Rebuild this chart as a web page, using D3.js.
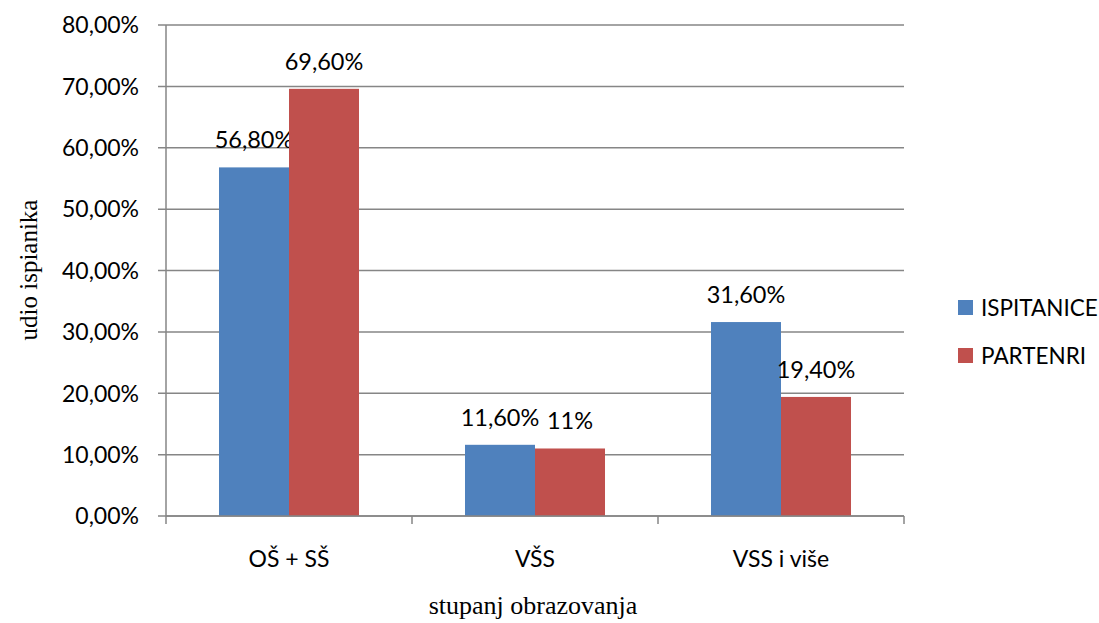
<!DOCTYPE html>
<html>
<head>
<meta charset="UTF-8">
<title>stupanj obrazovanja</title>
<style>
html, body {
    margin: 0;
    padding: 0;
    background-color: #fff;
}
.grid line, .axis path, .axis line {
    stroke: #868686;
    stroke-width: 1.5;
    fill: none;
}
.tick-label, .value-label, .legend-label, .cat-label {
    font-family: Lato, "Open Sans", sans-serif;
    fill: #000;
}
.title {
    font-family: "Liberation Serif", "DejaVu Serif", serif;
    font-size: 26px;
    fill: #000;
}
</style>
</head>
<body>
<div class="chart"></div>
<script src="https://cdn.jsdelivr.net/npm/d3@7/dist/d3.min.js"></script>
<script>
let categories = ['OŠ + SŠ', 'VŠS', 'VSS i više'];
let series = ['ISPITANICE', 'PARTENRI'];
let ispitanice = [56.8, 11.6, 31.6];
let partenri = [69.6, 11, 19.4];
let valueLabels = [['56,80%', '11,60%', '31,60%'], ['69,60%', '11%', '19,40%']];
let yTicks = [0, 10, 20, 30, 40, 50, 60, 70, 80];
let colors = ['#4F81BD', '#C0504D'];

let width = 1099, height = 623;
let plotLeft = 166, plotRight = 904, plotTop = 25, plotBottom = 516;

let svg = d3.select('.chart').append('svg')
    .attr('width', width)
    .attr('height', height);

let y = d3.scaleLinear().domain([0, 80]).range([plotBottom, plotTop]);
let x0 = d3.scaleBand().domain(categories).range([plotLeft, plotRight]).padding(0);
let x1 = d3.scaleBand().domain(series).range([0, x0.bandwidth()])
    .paddingInner(0).paddingOuter(0.757);

// gridlines
svg.append('g').attr('class', 'grid')
    .selectAll('line')
    .data(yTicks)
    .enter().append('line')
    .attr('x1', plotLeft - 8)
    .attr('x2', plotRight)
    .attr('y1', d => y(d))
    .attr('y2', d => y(d));

// y axis line
svg.append('line')
    .attr('x1', plotLeft).attr('x2', plotLeft)
    .attr('y1', plotTop).attr('y2', plotBottom)
    .attr('stroke', '#868686').attr('stroke-width', 1.5);

svg.append('g').selectAll('text')
    .data(yTicks)
    .enter().append('text')
    .attr('class', 'tick-label')
    .attr('x', plotLeft - 27)
    .attr('y', d => y(d))
    .attr('dy', '0.36em')
    .attr('text-anchor', 'end')
    .style('font-size', '23px')
    .text(d => d3.format('.2f')(d).replace('.', ',') + '%');

// bars
let data = [ispitanice, partenri];
series.forEach((s, si) => {
    let g = svg.append('g');
    g.selectAll('rect')
        .data(data[si])
        .enter().append('rect')
        .attr('x', (d, i) => x0(categories[i]) + x1(s))
        .attr('y', d => y(d))
        .attr('width', x1.bandwidth())
        .attr('height', d => plotBottom - y(d))
        .attr('fill', colors[si]);
    g.selectAll('text')
        .data(data[si])
        .enter().append('text')
        .attr('class', 'value-label')
        .attr('x', (d, i) => x0(categories[i]) + x1(s) + x1.bandwidth() / 2)
        .attr('y', d => y(d) - 19)
        .attr('text-anchor', 'middle')
        .style('font-size', '23.5px')
        .text((d, i) => valueLabels[si][i]);
});

// x axis
let xAxis = svg.append('g').attr('class', 'axis');
xAxis.append('line')
    .attr('x1', plotLeft).attr('x2', plotRight)
    .attr('y1', plotBottom).attr('y2', plotBottom);
let bounds = categories.map(c => x0(c)).concat([plotRight]);
xAxis.selectAll('.xtick')
    .data(bounds)
    .enter().append('line')
    .attr('x1', d => d).attr('x2', d => d)
    .attr('y1', plotBottom).attr('y2', plotBottom + 8);

svg.append('g').selectAll('text')
    .data(categories)
    .enter().append('text')
    .attr('class', 'cat-label')
    .attr('x', d => x0(d) + x0.bandwidth() / 2)
    .attr('y', 567)
    .attr('text-anchor', 'middle')
    .style('font-size', '23px')
    .text(d => d);

// axis titles
svg.append('text')
    .attr('class', 'title')
    .attr('x', 533)
    .attr('y', 614)
    .attr('text-anchor', 'middle')
    .text('stupanj obrazovanja');

svg.append('text')
    .attr('class', 'title')
    .attr('transform', 'translate(37,270) rotate(-90)')
    .attr('text-anchor', 'middle')
    .style('font-size', '25px')
    .text('udio ispianika');

// legend
let legend = svg.append('g');
series.forEach((s, i) => {
    legend.append('rect')
        .attr('x', 958)
        .attr('y', 300 + i * 48)
        .attr('width', 15)
        .attr('height', 15)
        .attr('fill', colors[i]);
    legend.append('text')
        .attr('class', 'legend-label')
        .attr('x', 981)
        .attr('y', 307.5 + i * 48)
        .attr('dy', '0.36em')
        .style('font-size', '22.5px')
        .text(s);
});
</script>
</body>
</html>
